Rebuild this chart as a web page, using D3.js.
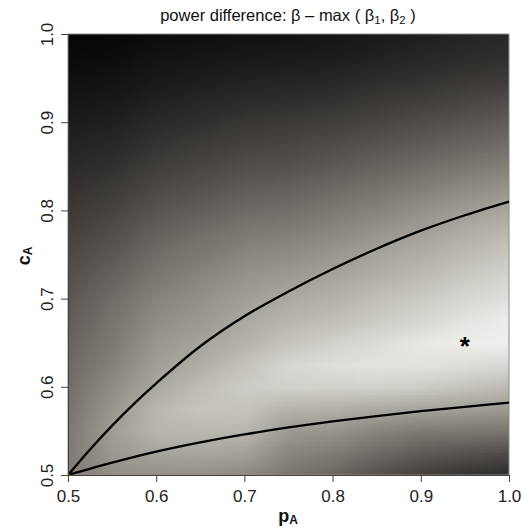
<!DOCTYPE html>
<html>
<head>
<meta charset="utf-8">
<script src="https://d3js.org/d3.v7.min.js"></script>
<style>
  body { margin: 0; background: #fff; }
  text { font-family: "Liberation Sans", Arial, sans-serif; }
</style>
</head>
<body>
<svg width="522" height="531"></svg>
<script>
// grid of the shaded surface: one column per p value, c going up from 0.5 to 1.0
var pGrid = [0.5, 0.55, 0.6, 0.65, 0.7, 0.75, 0.8, 0.85, 0.9, 0.95, 1.0];
var cGrid = d3.range(21).map(function(i) { return +(0.5 + i * 0.025).toFixed(3); });
var shade = [
  [125,122,119,115,110,105, 99, 93, 87, 80, 72, 65, 57, 50, 42, 35, 28, 21, 15, 10,  6],
  [140,150,155,148,138,128,120,115,108, 98, 88, 78, 68, 58, 49, 40, 32, 25, 18, 12,  8],
  [140,160,178,180,165,156,148,138,130,118,108, 96, 85, 73, 62, 52, 42, 33, 25, 18, 12],
  [140,162,180,192,185,170,160,150,142,132,120,108, 95, 82, 70, 59, 48, 38, 29, 21, 14],
  [135,158,178,190,200,190,175,165,155,145,133,120,105, 92, 78, 66, 54, 43, 33, 24, 16],
  [115,132,150,175,205,212,192,178,166,152,138,125,110, 96, 82, 70, 58, 46, 35, 26, 18],
  [100,122,145,172,205,220,205,186,174,160,148,134,120,105, 90, 76, 63, 50, 38, 28, 22],
  [ 80,105,130,165,205,225,218,198,186,172,160,145,130,114, 98, 84, 70, 56, 44, 33, 26],
  [ 62, 90,120,160,200,224,230,212,198,183,170,157,142,125,108, 92, 77, 62, 49, 38, 31],
  [ 50, 82,118,155,190,218,236,226,211,197,183,170,154,136,118,100, 85, 69, 54, 43, 36],
  [ 42, 75,115,150,182,212,238,236,222,208,195,180,163,145,127,108, 92, 76, 58, 48, 40]
];

// zero-difference boundaries
var upperP = [0.5, 0.525, 0.55, 0.575, 0.6, 0.65, 0.7, 0.75, 0.8, 0.85, 0.9, 0.95, 1.0];
var upperC = [0.5, 0.529, 0.556, 0.581, 0.604, 0.646, 0.680, 0.708, 0.7335, 0.7565, 0.777, 0.7945, 0.81];
var lowerP = [0.5, 0.55, 0.6, 0.65, 0.7, 0.75, 0.8, 0.85, 0.9, 0.95, 1.0];
var lowerC = [0.5, 0.514, 0.5265, 0.537, 0.546, 0.554, 0.5608, 0.5668, 0.5723, 0.5773, 0.582];

var starPoint = [0.95, 0.648];
var tickVals = [0.5, 0.6, 0.7, 0.8, 0.9, 1.0];

var svg = d3.select('svg');
var plotL = 68, plotR = 509, plotT = 34, plotB = 475;

var xs = d3.scaleLinear().domain([0.5, 1.0]).range([plotL, plotR]);
var ys = d3.scaleLinear().domain([0.5, 1.0]).range([plotB, plotT]);

var grey = d3.scaleLinear()
    .domain([0, 64, 128, 192, 255])
    .range(['#000000', '#43403d', '#87817b', '#c7c5be', '#ffffff']);

// paint the grid into a tiny canvas and let the browser smooth it when scaled up
var cnv = document.createElement('canvas');
cnv.width = pGrid.length;
cnv.height = cGrid.length;
var ctx = cnv.getContext('2d');
pGrid.forEach(function(p, i) {
  cGrid.forEach(function(c, j) {
    ctx.fillStyle = grey(shade[i][j]);
    ctx.fillRect(i, cGrid.length - 1 - j, 1, 1);
  });
});

svg.append('clipPath').attr('id', 'plotclip')
  .append('rect')
    .attr('x', plotL).attr('y', plotT)
    .attr('width', plotR - plotL).attr('height', plotB - plotT);

var dp = 0.05, dc = 0.025;
svg.append('image')
    .attr('clip-path', 'url(#plotclip)')
    .attr('href', cnv.toDataURL())
    .attr('preserveAspectRatio', 'none')
    .attr('x', xs(0.5 - dp / 2))
    .attr('y', ys(1.0 + dc / 2))
    .attr('width', xs(1.0 + dp / 2) - xs(0.5 - dp / 2))
    .attr('height', ys(0.5 - dc / 2) - ys(1.0 + dc / 2));

// frame
svg.append('rect')
    .attr('x', plotL).attr('y', plotT)
    .attr('width', plotR - plotL).attr('height', plotB - plotT)
    .attr('fill', 'none').attr('stroke', '#8a8a8a').attr('stroke-width', 1);

// curves
var line = d3.line()
    .x(function(d) { return xs(d[0]); })
    .y(function(d) { return ys(d[1]); })
    .curve(d3.curveCatmullRom.alpha(0.5));

svg.append('path')
    .datum(d3.zip(upperP, upperC))
    .attr('d', line)
    .attr('fill', 'none').attr('stroke', '#000').attr('stroke-width', 2.3);
svg.append('path')
    .datum(d3.zip(lowerP, lowerC))
    .attr('d', line)
    .attr('fill', 'none').attr('stroke', '#000').attr('stroke-width', 2.3);

svg.append('circle')
    .attr('cx', xs(0.5)).attr('cy', ys(0.5)).attr('r', 1.6)
    .attr('fill', '#ffee00');

svg.append('text')
    .attr('x', xs(starPoint[0]))
    .attr('y', ys(starPoint[1]) + 11)
    .attr('text-anchor', 'middle')
    .style('font-size', '26px')
    .style('font-weight', 'bold')
    .text('*');

// x axis
var xaxis = svg.append('g')
    .attr('transform', 'translate(0,' + plotB + ')')
    .call(d3.axisBottom(xs).tickValues(tickVals).tickSize(7).tickSizeOuter(0).tickFormat(d3.format('.1f')));
xaxis.select('.domain').attr('stroke', '#444');
xaxis.selectAll('.tick line').attr('stroke', '#444');
xaxis.selectAll('.tick text')
    .attr('y', 27).attr('dy', 0)
    .style('font-size', '17px').attr('fill', '#222');

// y axis
var yaxis = svg.append('g')
    .attr('transform', 'translate(' + plotL + ',0)')
    .call(d3.axisLeft(ys).tickValues(tickVals).tickSize(7).tickSizeOuter(0).tickFormat(d3.format('.1f')));
yaxis.select('.domain').attr('stroke', '#444');
yaxis.selectAll('.tick line').attr('stroke', '#444');
yaxis.selectAll('.tick text')
    .attr('transform', 'rotate(-90)')
    .attr('x', 0).attr('y', -15).attr('dy', 0)
    .attr('text-anchor', 'middle')
    .style('font-size', '17px').attr('fill', '#222');

// title
var title = svg.append('text')
    .attr('x', 288).attr('y', 21)
    .attr('text-anchor', 'middle')
    .style('font-size', '16.5px')
    .attr('fill', '#111');
title.append('tspan').text('power difference: \u03B2 \u2013 max ( \u03B2');
title.append('tspan').attr('dy', 3).style('font-size', '11.5px').text('1');
title.append('tspan').attr('dy', -3).text(', \u03B2');
title.append('tspan').attr('dy', 3).style('font-size', '11.5px').text('2');
title.append('tspan').attr('dy', -3).text(' )');

// axis titles
var xt = svg.append('text')
    .attr('x', 288).attr('y', 522)
    .attr('text-anchor', 'middle')
    .style('font-weight', 'bold').style('font-size', '18px')
    .attr('fill', '#111');
xt.append('tspan').text('p');
xt.append('tspan').attr('dy', 2).style('font-size', '12px').text('A');

var yt = svg.append('text')
    .attr('transform', 'translate(30,256) rotate(-90)')
    .attr('text-anchor', 'middle')
    .style('font-weight', 'bold').style('font-size', '18px')
    .attr('fill', '#111');
yt.append('tspan').text('c');
yt.append('tspan').attr('dy', 2).style('font-size', '12px').text('A');
</script>
</body>
</html>
